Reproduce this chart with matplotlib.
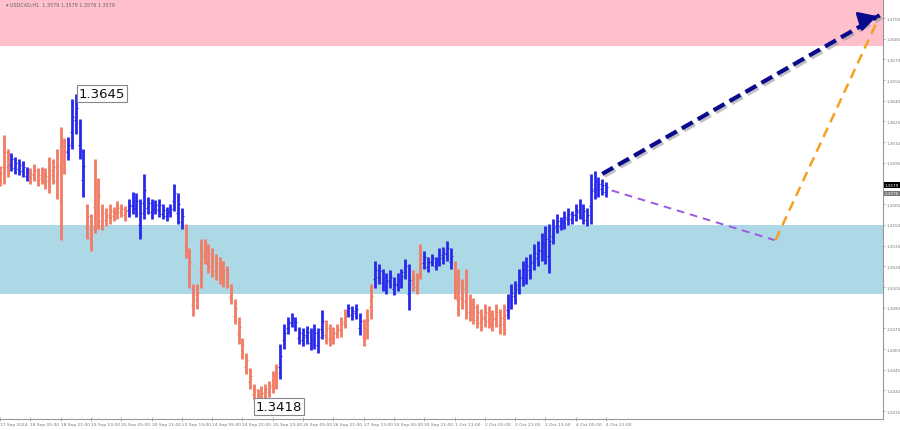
import matplotlib
matplotlib.use("Agg")
import matplotlib.pyplot as plt
import matplotlib.patheffects as pe
import numpy as np

# ---- data (USDCAD H1, one bar drawn per 2 hours) ----
lows = [1.3578, 1.3580, 1.3585, 1.3589, 1.3587, 1.3586, 1.3585, 1.3582, 1.3580, 1.3582,
        1.3578, 1.3580, 1.3576, 1.3573, 1.3580, 1.3569, 1.3539, 1.3587, 1.3597, 1.3605,
        1.3616, 1.3598, 1.3570, 1.3540, 1.3531, 1.3544, 1.3547, 1.3546, 1.3549, 1.3551,
        1.3553, 1.3554, 1.3556, 1.3553, 1.3556, 1.3558, 1.3556, 1.3540, 1.3554, 1.3558,
        1.3554, 1.3558, 1.3556, 1.3554, 1.3553, 1.3556, 1.3560, 1.3551, 1.3547, 1.3526,
        1.3504, 1.3484, 1.3489, 1.3504, 1.3522, 1.3515, 1.3512, 1.3510, 1.3507, 1.3505,
        1.3504, 1.3493, 1.3478, 1.3464, 1.3453, 1.3442, 1.3431, 1.3423, 1.3418, 1.3420,
        1.3424, 1.3425, 1.3428, 1.3431, 1.3438, 1.3460, 1.3471, 1.3476, 1.3473, 1.3464,
        1.3462, 1.3464, 1.3459, 1.3460, 1.3457, 1.3467, 1.3464, 1.3462, 1.3464, 1.3468,
        1.3469, 1.3475, 1.3483, 1.3481, 1.3482, 1.3470, 1.3462, 1.3467, 1.3482, 1.3504,
        1.3507, 1.3502, 1.3500, 1.3504, 1.3499, 1.3502, 1.3504, 1.3511, 1.3488, 1.3502,
        1.3500, 1.3511, 1.3518, 1.3516, 1.3520, 1.3517, 1.3520, 1.3522, 1.3524, 1.3518,
        1.3496, 1.3484, 1.3489, 1.3482, 1.3480, 1.3478, 1.3475, 1.3473, 1.3476, 1.3475,
        1.3473, 1.3476, 1.3471, 1.3470, 1.3482, 1.3489, 1.3493, 1.3500, 1.3506, 1.3507,
        1.3511, 1.3517, 1.3520, 1.3524, 1.3522, 1.3515, 1.3536, 1.3544, 1.3546, 1.3547,
        1.3550, 1.3551, 1.3553, 1.3554, 1.3551, 1.3549, 1.3551, 1.3569, 1.3570, 1.3572,
        1.3570]
highs = [1.3593, 1.3615, 1.3605, 1.3602, 1.3599, 1.3598, 1.3596, 1.3592, 1.3591, 1.3594,
         1.3591, 1.3592, 1.3591, 1.3599, 1.3598, 1.3605, 1.3621, 1.3613, 1.3614, 1.3641,
         1.3645, 1.3627, 1.3605, 1.3565, 1.3558, 1.3598, 1.3584, 1.3565, 1.3562, 1.3565,
         1.3563, 1.3567, 1.3565, 1.3564, 1.3569, 1.3574, 1.3573, 1.3569, 1.3587, 1.3570,
         1.3569, 1.3568, 1.3569, 1.3565, 1.3563, 1.3565, 1.3580, 1.3573, 1.3562, 1.3551,
         1.3533, 1.3507, 1.3507, 1.3540, 1.3540, 1.3536, 1.3533, 1.3529, 1.3527, 1.3524,
         1.3520, 1.3507, 1.3496, 1.3483, 1.3468, 1.3457, 1.3446, 1.3435, 1.3431, 1.3433,
         1.3435, 1.3437, 1.3444, 1.3449, 1.3464, 1.3478, 1.3483, 1.3486, 1.3483, 1.3476,
         1.3475, 1.3477, 1.3475, 1.3478, 1.3475, 1.3488, 1.3481, 1.3478, 1.3476, 1.3478,
         1.3483, 1.3489, 1.3493, 1.3491, 1.3493, 1.3486, 1.3482, 1.3489, 1.3507, 1.3524,
         1.3522, 1.3518, 1.3515, 1.3517, 1.3512, 1.3515, 1.3518, 1.3525, 1.3522, 1.3517,
         1.3515, 1.3536, 1.3531, 1.3527, 1.3529, 1.3527, 1.3533, 1.3534, 1.3538, 1.3533,
         1.3524, 1.3518, 1.3511, 1.3518, 1.3500, 1.3497, 1.3493, 1.3489, 1.3493, 1.3491,
         1.3488, 1.3493, 1.3489, 1.3493, 1.3500, 1.3507, 1.3509, 1.3518, 1.3524, 1.3527,
         1.3529, 1.3536, 1.3538, 1.3544, 1.3549, 1.3551, 1.3554, 1.3558, 1.3556, 1.3560,
         1.3562, 1.3560, 1.3565, 1.3569, 1.3565, 1.3562, 1.3587, 1.3589, 1.3585, 1.3583,
         1.3581]
# wave colouring: index where each coloured segment starts, and its colour
seg_starts = [0, 3, 8, 18, 23, 34, 49, 74, 86, 92, 96, 99, 109, 112, 120, 134]
seg_colors = ["o", "b", "o", "b", "o", "b", "o", "b", "o", "b", "o", "b", "o", "b", "o", "b"]

hours_per_bar = 2
tick_hours = [0, 16, 32, 48, 64, 80, 96, 112, 128, 144, 160, 176, 192, 208, 224,
              240, 256, 272, 288, 304, 320]
tick_labels = ["17 Sep 2024", "18 Sep 05:00", "18 Sep 21:00", "19 Sep 13:00", "20 Sep 05:00",
               "20 Sep 21:00", "23 Sep 13:00", "24 Sep 05:00", "24 Sep 21:00", "25 Sep 13:00",
               "26 Sep 05:00", "26 Sep 21:00", "27 Sep 13:00", "30 Sep 05:00", "30 Sep 21:00",
               "1 Oct 13:00", "2 Oct 05:00", "2 Oct 21:00", "3 Oct 13:00", "4 Oct 05:00",
               "4 Oct 21:00"]
price_ticks = [1.3415, 1.3430, 1.3445, 1.3460, 1.3475, 1.3490, 1.3505, 1.3520, 1.3535,
               1.3550, 1.3565, 1.3595, 1.3610, 1.3625, 1.3640, 1.3655, 1.3670,
               1.3685, 1.3700]

target_zone = (1.3680, 1.3714)
support_zone = (1.3500, 1.3550)

# forecast paths (hour, price)
main_arrow = ([318, 464.5], [1.3587, 1.3702])
alt_down = ([323, 409], [1.3575, 1.3539])
alt_up = ([409.5, 464], [1.3539, 1.3700])

high_label = (41.5, 1.3645, "1.3645")
low_label = (135, 1.3418, "1.3418")
last_price = 1.3579
bid_price = 1.3576

# ---- figure ----
fig = plt.figure(figsize=(9, 4.31), dpi=100)
ax = fig.add_axes([0.0, 0.0255, 0.981, 0.9745])
xmax = 466.2
ymin, ymax = 1.34093, 1.37138
ax.set_xlim(0, xmax)
ax.set_ylim(ymin, ymax)

ax.axhspan(target_zone[0], target_zone[1], color="#ffc0cb", zorder=0, lw=0)
ax.axhspan(support_zone[0], support_zone[1], color="#add8e6", zorder=0, lw=0)

col_map = {"o": "#f27b63", "b": "#2828ec"}
n = len(lows)
colors = []
for i in range(n):
    k = max(j for j, s in enumerate(seg_starts) if s <= i)
    colors.append(col_map[seg_colors[k]])
xs = np.arange(n) * hours_per_bar
ax.vlines(xs, lows, highs, colors=colors, lw=2.0, zorder=3)
# small open / close ticks
mid_hi = [l + (h - l) * 0.65 for l, h in zip(lows, highs)]
mid_lo = [l + (h - l) * 0.35 for l, h in zip(lows, highs)]
ax.hlines(mid_hi, xs, xs + 1.0, colors=colors, lw=0.8, zorder=3)
ax.hlines(mid_lo, xs - 1.0, xs, colors=colors, lw=0.8, zorder=3)

# forecast lines
shadow = [pe.SimpleLineShadow(offset=(1.5, -1.5), shadow_color="#999999", alpha=0.6), pe.Normal()]
ax.plot(main_arrow[0], main_arrow[1], color="#0a0a8c", lw=3.0, ls=(0, (3, 1.4)),
        zorder=5, path_effects=shadow, solid_capstyle="butt")
ax.annotate("", xy=(main_arrow[0][1], main_arrow[1][1]),
            xytext=(main_arrow[0][1] - 6, main_arrow[1][1] - 0.00025),
            arrowprops=dict(arrowstyle="-|>,head_length=1.1,head_width=0.6",
                            color="#0a0a8c", lw=2), zorder=6)
ax.plot(alt_down[0], alt_down[1], color="#9b59e0", lw=1.4, ls=(0, (4, 3)), zorder=5)
ax.plot(alt_up[0], alt_up[1], color="#f5a020", lw=1.8, ls=(0, (4, 2.5)), zorder=5)

# extreme labels
box = dict(boxstyle="square,pad=0.15", fc="white", ec="#888888", lw=0.8)
ax.text(high_label[0], high_label[1], high_label[2], fontsize=9.5, va="center",
        ha="left", bbox=box, zorder=7, color="#111111")
ax.text(low_label[0], low_label[1] + 0.00005, low_label[2], fontsize=9.5, va="center",
        ha="left", bbox=box, zorder=7, color="#111111")

# header text
ax.text(3, 1.3710, "\u25be USDCAD,H1  1.3579 1.3579 1.3576 1.3579", fontsize=3.5,
        color="#666666", va="center", ha="left")

# axes styling
for s in ["top", "left"]:
    ax.spines[s].set_visible(False)
ax.spines["right"].set_color("#999999")
ax.spines["bottom"].set_color("#999999")
ax.spines["right"].set_linewidth(0.8)
ax.spines["bottom"].set_linewidth(0.8)
ax.yaxis.tick_right()
ax.set_yticks(price_ticks)
ax.set_yticklabels([f"{p:.4f}" for p in price_ticks], fontsize=3.0, color="#777777")
ax.tick_params(axis="y", length=1.5, width=0.5, color="#999999", pad=1.0)
ax.set_xticks(tick_hours)
ax.set_xticklabels(tick_labels, fontsize=3.2, color="#777777", ha="left")
ax.tick_params(axis="x", length=2.5, width=0.5, color="#999999", pad=1.0, direction="inout")

# last price markers on axis
ax.text(1.002, last_price, f"{last_price:.4f}", transform=ax.get_yaxis_transform(),
        fontsize=3.0, color="white", va="center", ha="left",
        bbox=dict(boxstyle="square,pad=0.15", fc="black", ec="none"), clip_on=False)
ax.text(1.002, bid_price - 0.0003, f"{bid_price:.4f}", transform=ax.get_yaxis_transform(),
        fontsize=3.0, color="white", va="center", ha="left",
        bbox=dict(boxstyle="square,pad=0.15", fc="#777777", ec="none"), clip_on=False)

fig.savefig("out.png", dpi=100, facecolor="white")
